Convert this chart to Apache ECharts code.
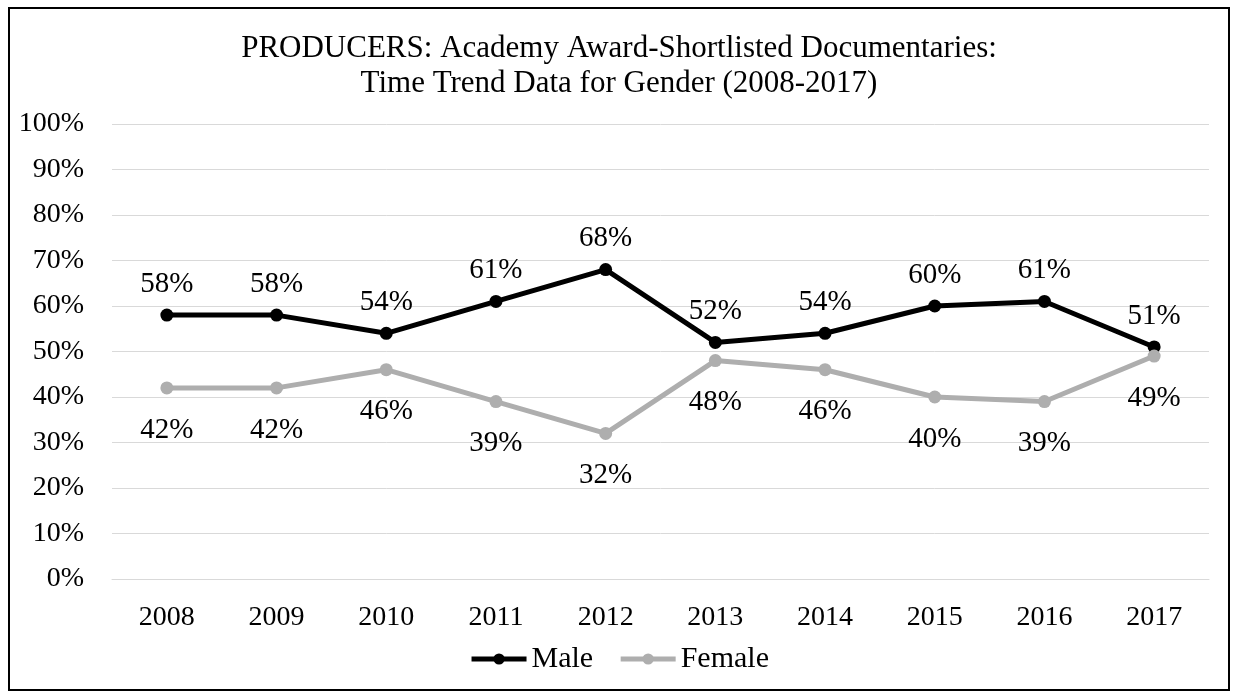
<!DOCTYPE html>
<html>
<head>
<meta charset="utf-8">
<script src="https://cdn.jsdelivr.net/npm/echarts@6/dist/echarts.min.js"></script>
<style>
  html, body { margin: 0; padding: 0; background: #fff; }
  #chart { width: 1238px; height: 698px; }
</style>
</head>
<body>
<div id="chart"></div>
<script>
const years = ["2008", "2009", "2010", "2011", "2012", "2013", "2014", "2015", "2016", "2017"];
const male = [58, 58, 54, 61, 68, 52, 54, 60, 61, 51];
const female = [42, 42, 46, 39, 32, 48, 46, 40, 39, 49];
const yTicks = [0, 10, 20, 30, 40, 50, 60, 70, 80, 90, 100];

const font = "'Liberation Serif', 'Times New Roman', serif";
const grey = "#aeaeae";
const chart = echarts.init(document.getElementById("chart"));

const option = {
  animation: false,
  textStyle: { fontFamily: font },
  title: {
    text: "PRODUCERS: Academy Award-Shortlisted Documentaries:\nTime Trend Data for Gender (2008-2017)",
    left: "center",
    top: 26,
    textStyle: {
      fontFamily: font,
      fontSize: 31,
      fontWeight: "normal",
      color: "#000",
      lineHeight: 35,
    },
  },
  graphic: [
    {
      type: "rect",
      shape: { x: 9, y: 8, width: 1220, height: 682 },
      style: { fill: "none", stroke: "#000", lineWidth: 2 },
      silent: true,
    },
  ],
  legend: {
    top: 639,
    left: "center",
    itemWidth: 55,
    itemHeight: 14,
    itemGap: 25,
    lineStyle: { width: 5 },
    textStyle: { fontFamily: font, fontSize: 30, color: "#000" },
    data: ["Male", "Female"],
  },
  grid: {
    left: 112,
    right: 29,
    top: 124,
    bottom: 119,
  },
  xAxis: {
    type: "category",
    data: years,
    boundaryGap: true,
    axisLine: { lineStyle: { color: "#d9d9d9", width: 1 } },
    axisTick: { show: false },
    axisLabel: {
      fontFamily: font,
      fontSize: 28,
      color: "#000",
      margin: 25,
    },
  },
  yAxis: {
    type: "value",
    min: yTicks[0],
    max: yTicks[yTicks.length - 1],
    interval: 10,
    axisLine: { show: false },
    axisTick: { show: false },
    splitLine: { lineStyle: { color: "#d9d9d9", width: 1 } },
    axisLabel: {
      fontFamily: font,
      fontSize: 28,
      color: "#000",
      margin: 28,
      formatter: "{value}%",
    },
  },
  series: [
    {
      name: "Male",
      type: "line",
      data: male,
      symbol: "circle",
      symbolSize: 13,
      lineStyle: { color: "#000", width: 5 },
      itemStyle: { color: "#000" },
      label: {
        show: true,
        position: "top",
        distance: 10,
        fontFamily: font,
        fontSize: 29,
        color: "#000",
        formatter: "{c}%",
      },
    },
    {
      name: "Female",
      type: "line",
      data: female,
      symbol: "circle",
      symbolSize: 13,
      lineStyle: { color: grey, width: 5 },
      itemStyle: { color: grey },
      label: {
        show: true,
        position: "bottom",
        distance: 21,
        fontFamily: font,
        fontSize: 29,
        color: "#000",
        formatter: "{c}%",
      },
    },
  ],
};

chart.setOption(option);
</script>
</body>
</html>
